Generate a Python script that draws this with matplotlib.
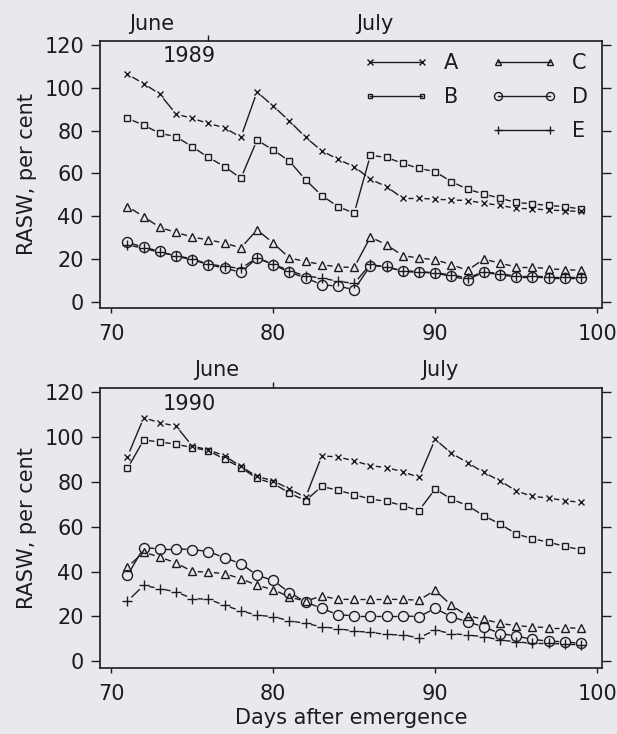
import numpy as np
import matplotlib
matplotlib.use('Agg')
import matplotlib.pyplot as plt
from matplotlib.lines import Line2D
from matplotlib.collections import LineCollection

plt.rcParams['font.family'] = ['DejaVu Sans']

days = list(range(71, 100))

# 1989
a89 = [106.4, 102.1, 97.1, 87.8, 85.8, 83.4, 81.4, 76.9, 98.2, 91.5, 84.6, 76.9, 70.6, 66.6, 63.2,
       57.3, 53.8, 48.4, 48.4, 47.9, 47.6, 47.3, 46.1, 45.0, 43.7, 43.4, 42.9, 42.5, 42.2]
b89 = [85.8, 82.6, 78.8, 77.2, 72.5, 67.5, 63.2, 57.7, 75.6, 71.0, 65.8, 57.0, 49.6, 44.5, 41.4,
       68.5, 67.5, 64.7, 62.4, 60.8, 56.2, 52.6, 50.4, 48.4, 46.4, 45.8, 45.0, 44.5, 43.3]
c89 = [44.5, 39.8, 34.7, 32.4, 30.2, 28.9, 27.4, 25.1, 33.6, 27.4, 20.4, 18.8, 17.3, 16.2, 16.0,
       30.2, 26.6, 21.5, 20.4, 19.6, 17.3, 14.6, 19.9, 18.0, 16.2, 16.2, 15.3, 15.0, 14.6]
d89 = [27.7, 25.5, 23.5, 21.2, 19.6, 17.3, 15.7, 13.7, 20.4, 17.3, 13.7, 11.1, 7.9, 7.2, 5.6,
       16.8, 16.5, 14.1, 13.7, 13.4, 11.8, 10.3, 13.7, 12.6, 11.5, 11.5, 11.1, 11.1, 11.1]
e89 = [26.5, 25.0, 23.0, 21.5, 20.0, 17.5, 16.5, 15.5, 20.5, 17.5, 14.5, 12.0, 11.0, 9.5, 8.5,
       17.5, 16.0, 14.5, 14.0, 13.5, 12.5, 11.0, 14.0, 13.0, 12.0, 12.0, 11.5, 11.5, 11.5]

# 1990
a90 = [91.4, 108.7, 106.5, 105.0, 96.1, 94.4, 91.7, 87.0, 82.5, 80.6, 76.9, 73.2, 91.7, 91.2, 89.5,
       87.3, 86.5, 84.6, 82.1, 99.1, 92.9, 88.7, 84.3, 80.6, 76.1, 73.6, 72.9, 71.7, 71.0]
b90 = [86.1, 98.8, 97.9, 96.9, 95.4, 94.0, 90.2, 86.5, 81.6, 79.4, 75.1, 71.7, 78.1, 76.3, 74.4,
       72.4, 71.4, 69.5, 67.3, 76.9, 72.4, 69.5, 65.0, 61.3, 56.9, 54.7, 53.2, 51.3, 49.8]
c90 = [42.1, 48.7, 46.5, 43.9, 40.1, 39.8, 39.1, 36.9, 33.9, 32.0, 28.7, 26.8, 29.2, 27.6, 27.7,
       27.7, 27.7, 27.6, 27.3, 31.7, 25.0, 20.3, 18.8, 16.9, 15.9, 15.4, 15.0, 15.0, 14.7]
d90 = [38.4, 50.7, 50.2, 50.2, 49.9, 49.0, 46.2, 43.6, 38.4, 36.1, 30.7, 26.5, 23.6, 20.8, 20.3,
       20.3, 20.3, 20.3, 19.9, 23.6, 19.9, 17.6, 15.4, 12.4, 11.3, 9.8, 9.0, 8.7, 8.0]
e90 = [26.8, 33.9, 32.4, 31.0, 28.0, 27.7, 25.0, 22.5, 20.6, 19.9, 18.1, 16.9, 15.4, 14.6, 13.5,
       12.9, 12.0, 11.7, 10.5, 13.9, 12.4, 11.7, 11.0, 9.5, 8.7, 8.0, 8.0, 7.7, 7.3]

names = ['A', 'B', 'C', 'D', 'E']
years = ['1989', '1990']
series = {'1989': [a89, b89, c89, d89, e89], '1990': [a90, b90, c90, d90, e90]}
month_edge = {'1989': 76, '1990': 80}   # last day of June (days after emergence)

ink = '#1c1c1c'
bg = '#e8e9ef'
markers = ['x', 's', '^', 'o', '+']
msizes = [5, 4.4, 5.2, 7.2, 6.5]
FS = 15

fig = plt.figure(figsize=(6.17, 7.34), dpi=100, facecolor=bg)
ax1 = fig.add_axes([0.162, 0.5804, 0.8136, 0.3637])
ax2 = fig.add_axes([0.162, 0.0899, 0.8136, 0.3815])


def gapped(ax, x, y, gap=5.5):
    # line pieces between markers, cut back near each marker
    pts = ax.transData.transform(np.column_stack([x, y]))
    inv = ax.transData.inverted()
    segs = []
    for p, q in zip(pts[:-1], pts[1:]):
        d = q - p
        L = np.hypot(d[0], d[1])
        if L > 2 * gap:
            segs.append(inv.transform(np.array([p + d / L * gap, q - d / L * gap])))
    ax.add_collection(LineCollection(segs, colors=ink, linewidths=1.0))


for ax, yr in zip([ax1, ax2], years):
    ax.set_facecolor(bg)
    ax.set_xlim(69.3, 100.3)
    ax.set_ylim(-3, 122)
    ax.set_xticks([70, 80, 90, 100])
    ax.set_yticks(range(0, 121, 20))
    for s in ax.spines.values():
        s.set_color(ink)
        s.set_linewidth(1.2)
    ax.tick_params(axis='y', direction='out', length=6.5, width=1, pad=5, right=True,
                   colors=ink, labelsize=FS)
    ax.tick_params(axis='x', direction='out', length=3.5, width=1, pad=8,
                   colors=ink, labelsize=FS)
    ax.set_ylabel('RASW, per cent', fontsize=FS, color=ink, labelpad=5)

    for vals, m, ms in zip(series[yr], markers, msizes):
        gapped(ax, days, vals)
        ax.plot(days, vals, linestyle='none', marker=m, markersize=ms, markeredgewidth=1.0,
                markerfacecolor='none', markeredgecolor=ink)

    sec = ax.secondary_xaxis('top')
    sec.set_xticks([month_edge[yr]])
    sec.set_xticklabels([''])
    sec.tick_params(direction='out', length=4, width=1, colors=ink)
    sec.spines['top'].set_visible(False)
    edge = month_edge[yr]
    tr = ax.get_xaxis_transform()
    ax.text(edge - 3.5, 1.065, 'June', transform=tr, ha='center', va='center', fontsize=FS, color=ink)
    ax.text(edge + 10.3, 1.065, 'July', transform=tr, ha='center', va='center', fontsize=FS, color=ink)
    ax.text(74.8, 115, yr, ha='center', va='center', fontsize=FS, color=ink)

ax2.set_xlabel('Days after emergence', fontsize=FS, color=ink, labelpad=3)

handles = []
for m, ms, n in zip(markers, msizes, names):
    handles.append(Line2D([], [], color=ink, linewidth=1.0, marker=m, markersize=ms * 0.8,
                          markeredgewidth=1.0, markerfacecolor='none', markeredgecolor=ink, label=n))
blank = Line2D([], [], linestyle='none', label=' ')
hl = handles[:2] + [blank] + handles[2:]
ax1.legend(handles=hl, ncol=2, loc='upper left', bbox_to_anchor=(364 / 617, 1 - 53 / 734),
           bbox_transform=fig.transFigure, frameon=False, numpoints=2, fontsize=FS,
           handlelength=3.1, handletextpad=0.75, columnspacing=1.6, labelspacing=0.68,
           borderpad=0, borderaxespad=0, labelcolor=ink)

fig.savefig('out.png', dpi=100, facecolor=bg)
